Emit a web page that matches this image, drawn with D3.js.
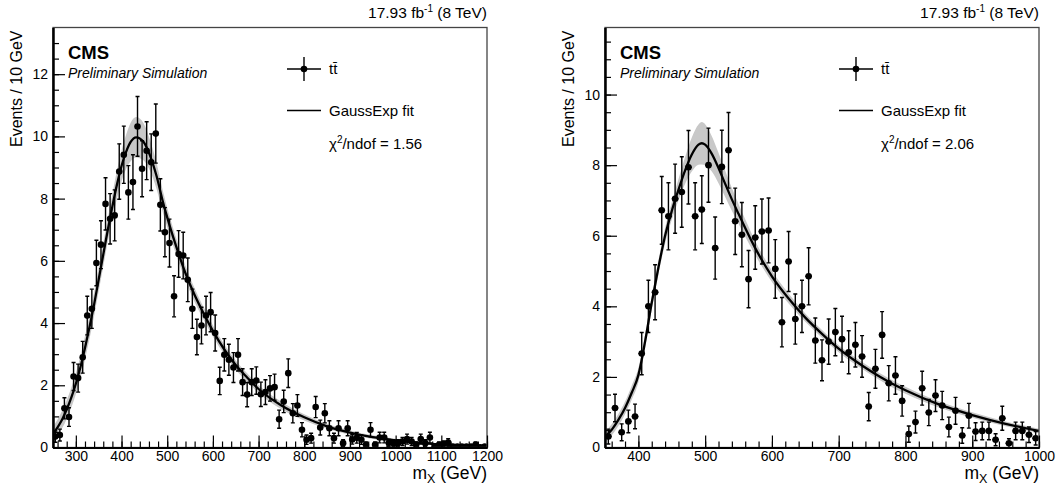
<!DOCTYPE html>
<html>
<head>
<meta charset="utf-8">
<script src="https://cdn.jsdelivr.net/npm/d3@7"></script>
<style>
  html, body { margin: 0; background: #fff; }
  svg { display: block; font-family: "Liberation Sans", Arial, Helvetica, sans-serif; }
</style>
</head>
<body>
<svg id="chart" width="1060" height="492"></svg>
<script>
// ---- left panel: m_X for 8 TeV tt sample, 10 GeV bins ----
const LEFT_MASS = [255,265,275,285,295,305,315,325,335,345,355,365,375,385,395,405,415,425,435,445,
  455,465,475,485,495,505,515,525,535,545,555,565,575,585,595,605,615,625,635,645,
  655,665,675,685,695,705,715,725,735,745,755,765,775,785,795,805,815,825,835,845,
  855,865,875,885,895,905,915,925,935,945,955,965,975,985,995,1005,1015,1025,1035,1045,
  1055,1065,1075,1085,1095,1105,1115,1125,1135,1145,1155,1165,1175,1185,1195];
const LEFT_EVENTS = [0.35,0.40,1.26,0.98,2.28,2.23,2.90,4.24,4.46,5.93,6.52,7.83,7.35,7.46,8.87,9.41,8.20,8.53,10.32,8.96,
  9.54,9.17,10.09,7.80,6.92,6.57,4.86,6.22,6.17,5.39,4.46,3.55,3.92,4.24,4.35,3.68,2.14,2.98,2.82,2.57,
  2.98,2.10,1.70,2.10,2.15,1.71,1.78,1.90,1.94,0.91,1.48,2.39,1.10,1.35,0.57,0.25,0.30,1.30,0.64,1.10,
  0.62,0.30,0.62,0.14,0.62,0.26,0.31,0.25,0.09,0.57,0.09,0.32,0.32,0.15,0.14,0.14,0.19,0.27,0.19,0.09,
  0.27,0.14,0.32,0.03,0.09,0.11,0.16,0.03,0.03,0.03,0.03,0.03,0.09,0.01,0.03];
const LEFT_ERR = [0.18,0.19,0.34,0.30,0.45,0.45,0.51,0.62,0.63,0.73,0.77,0.84,0.81,0.82,0.89,0.92,0.86,0.88,0.96,0.90,
  0.93,0.91,0.95,0.84,0.79,0.77,0.66,0.75,0.75,0.70,0.63,0.57,0.59,0.62,0.63,0.58,0.44,0.52,0.50,0.48,
  0.52,0.43,0.39,0.43,0.44,0.39,0.40,0.41,0.42,0.29,0.36,0.46,0.31,0.35,0.23,0.15,0.16,0.34,0.24,0.31,
  0.24,0.16,0.24,0.11,0.24,0.15,0.17,0.15,0.09,0.23,0.09,0.17,0.17,0.11,0.11,0.11,0.13,0.16,0.13,0.09,
  0.16,0.11,0.17,0.05,0.09,0.10,0.12,0.05,0.05,0.05,0.05,0.05,0.09,0.03,0.05];
const LEFT_FIT_MASS = [250,260,270,280,290,300,310,320,330,340,350,360,370,380,390,400,410,420,432,448,
  462,477,491,505,520,540,560,580,600,625,650,675,700,750,800,850,900,950,1000,1050,1100,1150,1200];
const LEFT_FIT = [0.45,0.65,0.90,1.22,1.60,2.05,2.58,3.20,3.88,4.60,5.40,6.20,7.00,7.75,8.45,9.05,9.50,9.82,9.97,9.83,
  9.40,8.71,7.87,7.15,6.45,5.60,4.90,4.30,3.75,3.15,2.65,2.25,1.88,1.35,0.97,0.68,0.48,0.33,0.23,0.15,0.10,0.07,0.05];
const LEFT_BAND = [0.22,0.25,0.28,0.30,0.32,0.34,0.36,0.38,0.38,0.38,0.38,0.38,0.38,0.40,0.45,0.50,0.55,0.62,0.65,0.60,
  0.50,0.42,0.35,0.30,0.27,0.24,0.22,0.20,0.18,0.16,0.15,0.14,0.13,0.12,0.10,0.08,0.07,0.06,0.05,0.04,0.03,0.03,0.02];

// ---- right panel ----
const RIGHT_MASS = [355,365,375,385,395,405,415,425,435,445,455,465,475,485,495,505,515,525,535,545,
  555,565,575,585,595,605,615,625,635,645,655,665,675,685,695,705,715,725,735,745,
  755,765,775,785,795,805,815,825,835,845,855,865,875,885,895,905,915,925,935,945,
  955,965,975,985,995];
const RIGHT_EVENTS = [0.31,1.12,0.43,0.74,0.88,2.66,4.00,4.40,6.72,6.55,7.05,7.24,7.94,6.55,6.74,8.00,5.65,7.95,8.42,6.41,
  6.03,4.77,5.95,6.12,6.15,5.06,3.55,5.27,3.64,4.00,4.85,3.03,2.47,3.00,3.27,3.07,2.70,2.91,2.58,1.16,
  2.23,3.19,1.82,2.04,1.32,0.38,0.72,1.68,0.99,1.47,1.19,0.58,1.04,0.34,0.90,0.45,0.47,0.47,0.22,0.83,
  0.12,0.47,0.47,0.36,0.26];
const RIGHT_ERR = [0.21,0.39,0.24,0.32,0.35,0.60,0.74,0.78,0.96,0.95,0.98,1.00,1.04,0.95,0.96,1.05,0.88,1.04,1.07,0.94,
  0.91,0.81,0.90,0.92,0.92,0.83,0.70,0.85,0.71,0.74,0.81,0.64,0.58,0.64,0.67,0.65,0.61,0.63,0.59,0.40,
  0.55,0.66,0.50,0.53,0.43,0.23,0.31,0.48,0.37,0.45,0.40,0.28,0.38,0.22,0.35,0.25,0.25,0.25,0.17,0.34,
  0.13,0.25,0.25,0.22,0.19];
const RIGHT_FIT_MASS = [350,360,370,380,390,400,410,420,430,440,450,460,470,480,490,495,500,510,520,530,
  540,550,560,575,600,625,650,675,700,725,750,775,800,850,900,950,1000];
const RIGHT_FIT = [0.30,0.50,0.78,1.12,1.55,2.05,3.00,4.10,5.10,6.00,6.70,7.30,7.85,8.30,8.58,8.62,8.58,8.32,7.92,7.47,
  7.03,6.62,6.22,5.65,4.85,4.22,3.68,3.22,2.80,2.45,2.14,1.86,1.62,1.22,0.92,0.67,0.47];
const RIGHT_BAND = [0.15,0.16,0.17,0.18,0.20,0.20,0.20,0.20,0.20,0.22,0.25,0.30,0.38,0.48,0.57,0.60,0.58,0.50,0.43,0.37,
  0.32,0.28,0.25,0.20,0.16,0.14,0.12,0.11,0.10,0.10,0.10,0.10,0.10,0.09,0.08,0.07,0.06];

const LEFT_XTICKS = [300,400,500,600,700,800,900,1000,1100,1200];
const RIGHT_XTICKS = [400,500,600,700,800,900,1000];
const LEFT_YTICKS = [0,2,4,6,8,10,12];
const RIGHT_YTICKS = [0,2,4,6,8,10];

const TOP = 27.5, BOTTOM = 447.5;
const FONT = '"Liberation Sans", Arial, Helvetica, sans-serif';
const svg = d3.select("#chart");

function drawPanel(p) {
  const g = svg.append("g");
  const x = d3.scaleLinear().domain(p.xDomain).range([p.left, p.right]);
  const y = d3.scaleLinear().domain(p.yDomain).range([BOTTOM, TOP]);

  const clipId = "clip-" + p.id;
  g.append("clipPath").attr("id", clipId).append("rect")
    .attr("x", p.left).attr("y", TOP).attr("width", p.right - p.left).attr("height", BOTTOM - TOP);

  const plot = g.append("g").attr("clip-path", `url(#${clipId})`);

  // fit uncertainty band
  const fit = p.fitMass.map((m, i) => ({ m, v: p.fit[i], h: p.band[i] }));
  plot.append("path").datum(fit)
    .attr("d", d3.area().x(d => x(d.m)).y0(d => y(d.v - d.h)).y1(d => y(d.v + d.h)).curve(d3.curveMonotoneX))
    .attr("fill", "#c8c8c8");

  // fit curve
  plot.append("path").datum(fit)
    .attr("d", d3.line().x(d => x(d.m)).y(d => y(d.v)).curve(d3.curveMonotoneX))
    .attr("fill", "none").attr("stroke", "#000").attr("stroke-width", 2.3);

  // histogram points with error bars
  const pts = p.mass.map((m, i) => ({ m, v: p.events[i], e: p.err[i] }));
  const pg = plot.append("g").attr("stroke", "#000").attr("stroke-width", 1.4);
  pts.forEach(d => {
    const cx = x(d.m), y1 = y(d.v + d.e), y0 = y(d.v - d.e);
    pg.append("line").attr("x1", cx).attr("x2", cx).attr("y1", y1).attr("y2", y0);
    pg.append("line").attr("x1", cx - 2).attr("x2", cx + 2).attr("y1", y1).attr("y2", y1);
    pg.append("line").attr("x1", cx - 2).attr("x2", cx + 2).attr("y1", y0).attr("y2", y0);
    pg.append("line").attr("x1", x(d.m - 5)).attr("x2", x(d.m + 5)).attr("y1", y(d.v)).attr("y2", y(d.v));
  });
  plot.append("g").selectAll("circle").data(pts).join("circle")
    .attr("cx", d => x(d.m)).attr("cy", d => y(d.v)).attr("r", 3.3).attr("fill", "#000");

  // frame
  g.append("rect")
    .attr("x", p.left).attr("y", TOP).attr("width", p.right - p.left).attr("height", BOTTOM - TOP)
    .attr("fill", "none").attr("stroke", "#444").attr("stroke-width", 1.3);

  // axes: minor ticks, then major ticks with labels
  const styleAxis = sel => {
    sel.attr("font-family", FONT).attr("font-size", 14);
    sel.selectAll("text").attr("fill", "#000");
    sel.selectAll(".tick line").attr("stroke", "#000").attr("stroke-width", 1.2);
    sel.select(".domain").attr("stroke", "#000").attr("stroke-width", 2);
  };
  g.append("g").attr("transform", `translate(0,${BOTTOM})`)
    .call(d3.axisBottom(x).tickValues(d3.range(p.xDomain[0] + 10, p.xDomain[1] + 1, 20)).tickSize(-6).tickSizeOuter(0).tickFormat(""))
    .call(styleAxis);
  g.append("g").attr("transform", `translate(0,${BOTTOM})`)
    .call(d3.axisBottom(x).tickValues(p.xTicks).tickSize(-12).tickSizeOuter(0).tickPadding(4).tickFormat(d3.format("d")))
    .call(styleAxis);
  g.append("g").attr("transform", `translate(${p.left},0)`)
    .call(d3.axisLeft(y).tickValues(d3.range(0, p.yDomain[1], 0.5)).tickSize(-6).tickSizeOuter(0).tickFormat(""))
    .call(styleAxis);
  g.append("g").attr("transform", `translate(${p.left},0)`)
    .call(d3.axisLeft(y).tickValues(p.yTicks).tickSize(-12).tickSizeOuter(0).tickPadding(5).tickFormat(d3.format("d")))
    .call(styleAxis);

  // axis titles
  const xt = g.append("text").attr("x", p.right).attr("y", 479).attr("text-anchor", "end")
    .attr("font-size", 17.5).attr("font-family", FONT);
  xt.append("tspan").text("m");
  xt.append("tspan").attr("font-size", 12.5).attr("dy", 4).text("X");
  xt.append("tspan").attr("dy", -4).text(" (GeV)");

  g.append("text").attr("transform", `translate(${p.left - 31},${TOP + 3}) rotate(-90)`)
    .attr("text-anchor", "end").attr("font-size", 16).attr("font-family", FONT)
    .text("Events / 10 GeV");

  const lumi = g.append("text").attr("x", p.right).attr("y", 18).attr("text-anchor", "end")
    .attr("font-size", 15.5).attr("font-family", FONT);
  lumi.append("tspan").text("17.93 fb");
  lumi.append("tspan").attr("font-size", 10).attr("dy", -6).text("-1");
  lumi.append("tspan").attr("dy", 6).text(" (8 TeV)");

  g.append("text").attr("x", p.left + 15).attr("y", 59).attr("font-size", 18.5).attr("font-weight", "bold")
    .attr("font-family", FONT).text("CMS");
  g.append("text").attr("x", p.left + 15).attr("y", 78).attr("font-size", 14).attr("font-style", "italic")
    .attr("font-family", FONT).text("Preliminary Simulation");

  // legend
  const lx = p.left + 251, tx = p.left + 276;
  const lg = g.append("g").attr("stroke", "#000");
  lg.append("line").attr("x1", lx - 17).attr("x2", lx + 17).attr("y1", 69).attr("y2", 69).attr("stroke-width", 1.4);
  lg.append("line").attr("x1", lx).attr("x2", lx).attr("y1", 57).attr("y2", 81).attr("stroke-width", 1.4);
  lg.append("circle").attr("cx", lx).attr("cy", 69).attr("r", 3.3).attr("fill", "#000").attr("stroke", "none");
  lg.append("line").attr("x1", lx - 17).attr("x2", lx + 17).attr("y1", 110.5).attr("y2", 110.5).attr("stroke-width", 1.6);

  g.append("text").attr("x", tx).attr("y", 74).attr("font-size", 15).attr("font-family", FONT).text("tt\u0304");
  g.append("text").attr("x", tx).attr("y", 115.5).attr("font-size", 15).attr("font-family", FONT).text("GaussExp fit");
  const chi = g.append("text").attr("x", tx).attr("y", 148.5).attr("font-size", 15).attr("font-family", FONT);
  chi.append("tspan").text("\u03c7");
  chi.append("tspan").attr("font-size", 10).attr("dy", -6).text("2");
  chi.append("tspan").attr("dy", 6).text("/ndof = " + p.chi2);
}

drawPanel({
  id: "l", left: 53, right: 487, xDomain: [250, 1200], yDomain: [0, 13.5],
  xTicks: LEFT_XTICKS, yTicks: LEFT_YTICKS,
  mass: LEFT_MASS, events: LEFT_EVENTS, err: LEFT_ERR,
  fitMass: LEFT_FIT_MASS, fit: LEFT_FIT, band: LEFT_BAND, chi2: "1.56"
});
drawPanel({
  id: "r", left: 605, right: 1039, xDomain: [350, 1000], yDomain: [0, 11.9],
  xTicks: RIGHT_XTICKS, yTicks: RIGHT_YTICKS,
  mass: RIGHT_MASS, events: RIGHT_EVENTS, err: RIGHT_ERR,
  fitMass: RIGHT_FIT_MASS, fit: RIGHT_FIT, band: RIGHT_BAND, chi2: "2.06"
});
</script>
</body>
</html>
